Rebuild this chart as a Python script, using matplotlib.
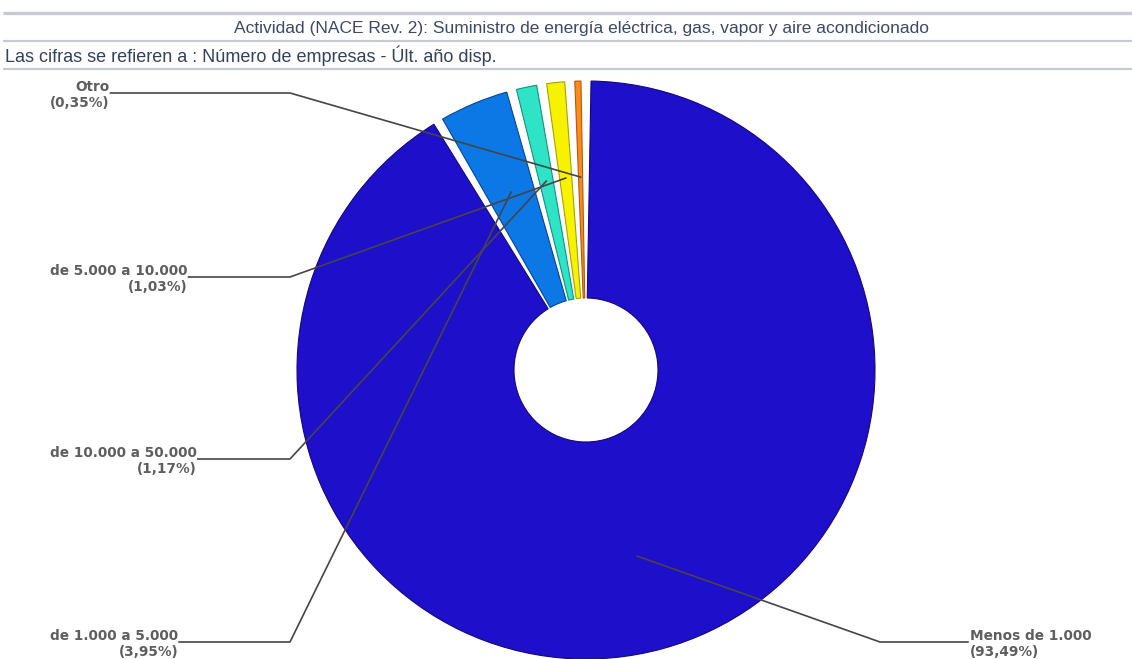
import numpy as np
import matplotlib
matplotlib.use("Agg")
from matplotlib import pyplot as plt
from matplotlib.patches import Wedge

# share of companies by turnover band (clockwise from 12 o'clock)
labels = ["Menos de 1.000", "de 1.000 a 5.000", "de 10.000 a 50.000",
          "de 5.000 a 10.000", "Otro"]
shares = [93.49, 3.95, 1.17, 1.03, 0.35]
colors = ["#1d0fca", "#0b78e6", "#2ee3c6", "#f7f200", "#ff8a1c"]
edges = ["#14087a", "#06449a", "#17907e", "#a8a300", "#b05a08"]

title = "Actividad (NACE Rev. 2): Suministro de energía eléctrica, gas, vapor y aire acondicionado"
subtitle = "Las cifras se refieren a : Número de empresas - Últ. año disp."

fig = plt.figure(figsize=(11.32, 6.59), dpi=100)
ax = fig.add_axes([0, 0, 1, 1])
ax.set_xlim(0, 1132)
ax.set_ylim(659, 0)
ax.axis("off")

# header bands
for y, lw in [(13, 2.4), (41, 1.6), (69, 1.6)]:
    ax.plot([3, 1132], [y, y], color="#c6cbd3", lw=lw, solid_capstyle="butt")
ax.text(581, 28, title, ha="center", va="center", fontsize=12.5,
        family="Liberation Sans", color="#3b4866")
ax.text(5, 56, subtitle, ha="left", va="center", fontsize=13,
        family="Liberation Sans", color="#34405c")

# donut with a small angular gap between slices
cx, cy, R, r_hole = 586, 370, 289, 72
pad = 2.0
span = 360 - pad * len(shares)
total = sum(shares)
mids = []
start = pad / 2
for v, fc, ec in zip(shares, colors, edges):
    sweep = v / total * span
    ax.add_patch(Wedge((cx, cy), R, start - 90, start + sweep - 90,
                       width=R - r_hole, facecolor=fc, edgecolor=ec, lw=0.8))
    mids.append(start + sweep / 2)
    start += sweep + pad

# label placement: (line y, side)
label_y = [642, 642, 459, 277, 93]
label_side = ["right", "left", "left", "left", "left"]
elbow_left, elbow_right = 290, 880
text_left, text_right = 50, 970
r_anchor = 193

fig.canvas.draw()
renderer = fig.canvas.get_renderer()
for lab, v, mid, ly, side in zip(labels, shares, mids, label_y, label_side):
    txt = f"{lab}\n(" + f"{v:.2f}".replace(".", ",") + "%)"
    a = np.deg2rad(mid)
    px = cx + r_anchor * np.sin(a)
    py = cy - r_anchor * np.cos(a)
    if side == "left":
        t = ax.text(text_left, ly + 2, txt, ha="left", va="center",
                    multialignment="right", fontsize=9.8, fontweight="bold",
                    color="#5e5e5e", linespacing=1.25)
        bb = t.get_window_extent(renderer).transformed(ax.transData.inverted())
        x0 = max(bb.x0, bb.x1) + 1
        ax.plot([x0, elbow_left, px], [ly, ly, py], color="#454545", lw=1.2)
    else:
        ax.text(text_right, ly + 2, txt, ha="left", va="center",
                multialignment="left", fontsize=9.8, fontweight="bold",
                color="#5e5e5e", linespacing=1.25)
        ax.plot([text_right - 2, elbow_right, px], [ly, ly, py],
                color="#454545", lw=1.2)

fig.savefig("out.png", dpi=100)
